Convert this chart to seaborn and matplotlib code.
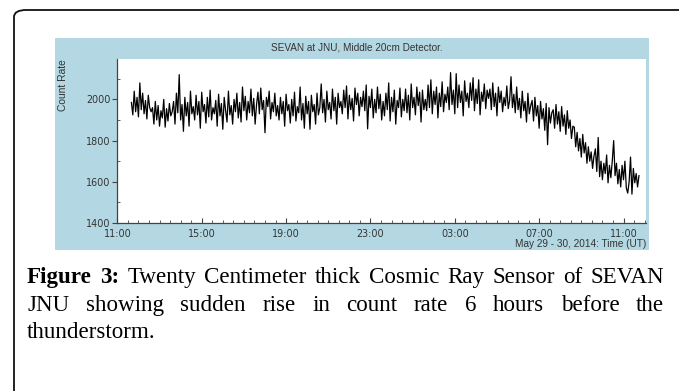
import numpy as np
import pandas as pd
import matplotlib
matplotlib.use("Agg")
import matplotlib.pyplot as plt
import matplotlib.dates as mdates
from matplotlib.patches import FancyBboxPatch, Rectangle
import seaborn as sns

# ---------------- data (count rate, 4-minute samples from 11:40 UT, May 29) -------------
b00 = [1985, 1925, 2040, 1940, 2010, 1915, 2080, 1950, 2030, 1930, 1995, 1905, 2020, 1960, 1940]
b01 = [1960, 1880, 1990, 1900, 1970, 1870, 1945, 1910, 2000, 1865, 1955, 1895, 1980, 1920, 1940]
b02 = [1990, 1880, 2030, 1935, 2120, 1900, 1975, 1845, 2010, 1920, 1985, 1870, 2040, 1930, 1965]
b03 = [1900, 2020, 1925, 1990, 1860, 2035, 1940, 1975, 1885, 2010, 1915, 2045, 1900, 1960, 1930]
b04 = [1995, 1870, 2025, 1920, 1980, 1855, 2010, 1945, 1890, 2040, 1925, 1970, 1880, 2000, 1940]
b05 = [2030, 1910, 1985, 1890, 2060, 1945, 2015, 1900, 1990, 1935, 2050, 1920, 2005, 1880, 1975]
b06 = [2035, 1930, 2055, 1950, 1995, 1838, 2010, 1965, 2040, 1905, 1985, 1940, 2030, 1920, 1970]
b07 = [1900, 2010, 1930, 1990, 1870, 2025, 1945, 1975, 1885, 2000, 1920, 2035, 1895, 1965, 1935]
b08 = [2060, 1900, 1980, 1860, 2015, 1930, 1990, 1855, 2020, 1940, 1975, 1880, 2030, 1925, 1960]
b09 = [2075, 1935, 2000, 1890, 2040, 1950, 1985, 1905, 2050, 1945, 2010, 1880, 2030, 1960, 1990]
b10 = [1930, 2045, 1960, 2065, 1905, 2020, 1950, 2005, 1895, 2055, 1975, 2030, 1920, 2010, 1965]
b11 = [2040, 1945, 2070, 1857, 2015, 1960, 2050, 1910, 2000, 1935, 2060, 1955, 2025, 1900, 1990]
b12 = [1920, 2030, 1950, 2080, 1895, 2010, 1940, 2045, 1880, 1995, 1960, 2055, 1915, 2000, 1945]
b13 = [2050, 1935, 2020, 1900, 2075, 1960, 2010, 1925, 2060, 1970, 2035, 1890, 2045, 1950, 2000]
b14 = [1945, 2070, 1960, 2095, 1930, 2040, 1975, 2060, 1910, 2030, 1965, 2085, 1940, 2025, 1985]
b15 = [2060, 1950, 2130, 1975, 2045, 1930, 2125, 1960, 2070, 1985, 2040, 1920, 2090, 1990, 2030]
b16 = [1960, 2080, 1995, 2105, 1945, 2050, 1980, 2095, 1925, 2035, 1990, 2075, 1955, 2045, 2005]
b17 = [2050, 1950, 2080, 1965, 2030, 1920, 2060, 1985, 2040, 1940, 2010, 1970, 2065, 1955, 1995]
b18 = [2110, 1960, 2025, 1935, 2060, 1950, 2005, 1910, 2040, 1945, 1990, 1890, 2030, 1930, 1970]
b19 = [1995, 1895, 2010, 1920, 1970, 1860, 1990, 1905, 1955, 1850, 1980, 1780, 1960, 1885, 1935]
b20 = [1950, 1860, 1975, 1880, 1940, 1845, 1965, 1870, 1925, 1830, 1945, 1860, 1900, 1810, 1870]
b21 = [1865, 1770, 1840, 1750, 1810, 1720, 1830, 1740, 1790, 1690, 1770, 1700, 1745, 1665, 1725]
b22 = [1760, 1650, 1815, 1625, 1700, 1610, 1690, 1640, 1730, 1595, 1680, 1620, 1700, 1800, 1630]
b23 = [1690, 1590, 1660, 1575, 1680, 1610, 1700, 1570, 1545, 1600, 1720, 1540, 1665, 1595, 1640, 1575, 1630]

counts = (b00 + b01 + b02 + b03 + b04 + b05 + b06 + b07 + b08 + b09 + b10 + b11 +
          b12 + b13 + b14 + b15 + b16 + b17 + b18 + b19 + b20 + b21 + b22 + b23)
start_time = "2014-05-29 11:40"
step = "4min"

title = "SEVAN at JNU, Middle 20cm Detector."
ylabel = "Count Rate"
xlabel = "May 29 - 30, 2014: Time (UT)"
y_major = [1400, 1600, 1800, 2000]
caption_bold = "Figure 3:"
caption_line1 = "Twenty Centimeter thick Cosmic Ray Sensor of SEVAN"
caption_line2 = "JNU showing sudden rise in count rate 6 hours before the"
caption_line3 = "thunderstorm."

df = pd.DataFrame({
    "time": pd.date_range(start_time, periods=len(counts), freq=step),
    "count": counts,
})

# ---------------- figure ----------------
W, H = 679, 391
fig = plt.figure(figsize=(W / 100, H / 100), dpi=100)
fig.patch.set_facecolor("white")

def fx(px):
    return px / W

def fy(py):
    return 1 - py / H

# outer rounded border (only top-left visible)
border = FancyBboxPatch((fx(14), fy(420)), fx(720), fy(10) - fy(420),
                        boxstyle="round,pad=0,rounding_size=0.018",
                        transform=fig.transFigure, facecolor="none",
                        edgecolor="#111111", linewidth=1.3, zorder=-2)
fig.patches.append(border)

# light blue chart panel
panel = Rectangle((fx(55), fy(250)), fx(649) - fx(55), fy(38) - fy(250),
                  transform=fig.transFigure, facecolor="#b4d8e3",
                  edgecolor="none", zorder=-1)
fig.patches.append(panel)

ax_l, ax_r, ax_t, ax_b = 117, 646, 59, 223
ax = fig.add_axes([fx(ax_l), fy(ax_b), fx(ax_r) - fx(ax_l), fy(ax_t) - fy(ax_b)])
ax.set_facecolor("white")
ax.set_zorder(1)

sns.lineplot(data=df, x="time", y="count", ax=ax, color="black",
             linewidth=0.9, estimator=None)

ax.set_ylim(1400, 2196)
ax.set_xlim(pd.Timestamp("2014-05-29 10:59"), pd.Timestamp("2014-05-30 12:04"))
ax.set_yticks(y_major)
ax.yaxis.set_minor_locator(matplotlib.ticker.MultipleLocator(100))
ax.xaxis.set_major_locator(mdates.HourLocator(byhour=[3, 7, 11, 15, 19, 23]))
ax.xaxis.set_minor_locator(mdates.MinuteLocator(byminute=[0, 30]))
ax.xaxis.set_major_formatter(mdates.DateFormatter("%H:%M"))

tc = "#333333"
ax.tick_params(axis="y", which="major", direction="out", length=3.5, width=0.8,
               color="#444444", labelsize=6.9, labelcolor=tc, pad=1.2)
ax.tick_params(axis="y", which="minor", direction="in", length=2.5, width=0.6,
               color="#444444")
ax.tick_params(axis="x", which="major", direction="in", length=3.5, width=0.8,
               color="#444444", labelsize=6.9, labelcolor=tc, pad=4.5)
ax.tick_params(axis="x", which="minor", direction="in", length=2.2, width=0.6,
               color="#444444")
for s in ["top", "right"]:
    ax.spines[s].set_visible(False)
for s in ["left", "bottom"]:
    ax.spines[s].set_color("#444444")
    ax.spines[s].set_linewidth(0.9)
ax.set_xlabel("")
ax.set_ylabel("")

sans = ["Liberation Sans", "DejaVu Sans"]
fig.text(fx(357), fy(47), title, ha="center", va="center", fontsize=7.2,
         color=tc, family=sans)
fig.text(fx(63), fy(59), ylabel, ha="center", va="top", rotation=90,
         fontsize=7.4, color=tc, family=sans)
fig.text(fx(646), fy(244), xlabel, ha="right", va="center", fontsize=7.2,
         color=tc, family=sans)

# ---------------- caption (justified) ----------------
serif = ["Liberation Serif", "DejaVu Serif"]
cap_size = 16.6
renderer = fig.canvas.get_renderer()
left_px, right_px = 27, 664

def justify(words, y_px, justify_line=True):
    texts = []
    for w, bold in words:
        t = fig.text(0, fy(y_px), w, ha="left", va="baseline", fontsize=cap_size,
                     family=serif, fontweight="bold" if bold else "normal",
                     color="black")
        texts.append(t)
    widths = [t.get_window_extent(renderer).width for t in texts]
    space = texts[0].get_fontsize() * 100 / 72 * 0.25
    if justify_line and len(texts) > 1:
        gap = (right_px - left_px - sum(widths)) / (len(texts) - 1)
    else:
        gap = space
    x = left_px
    for t, wd in zip(texts, widths):
        t.set_x(fx(x))
        x += wd + gap

line1 = [(w, True) for w in caption_bold.split()] + [(w, False) for w in caption_line1.split()]
line2 = [(w, False) for w in caption_line2.split()]
line3 = [(w, False) for w in caption_line3.split()]
justify(line1, 283)
justify(line2, 311)
justify(line3, 338, justify_line=False)

fig.savefig("out.png", dpi=100, facecolor="white")
